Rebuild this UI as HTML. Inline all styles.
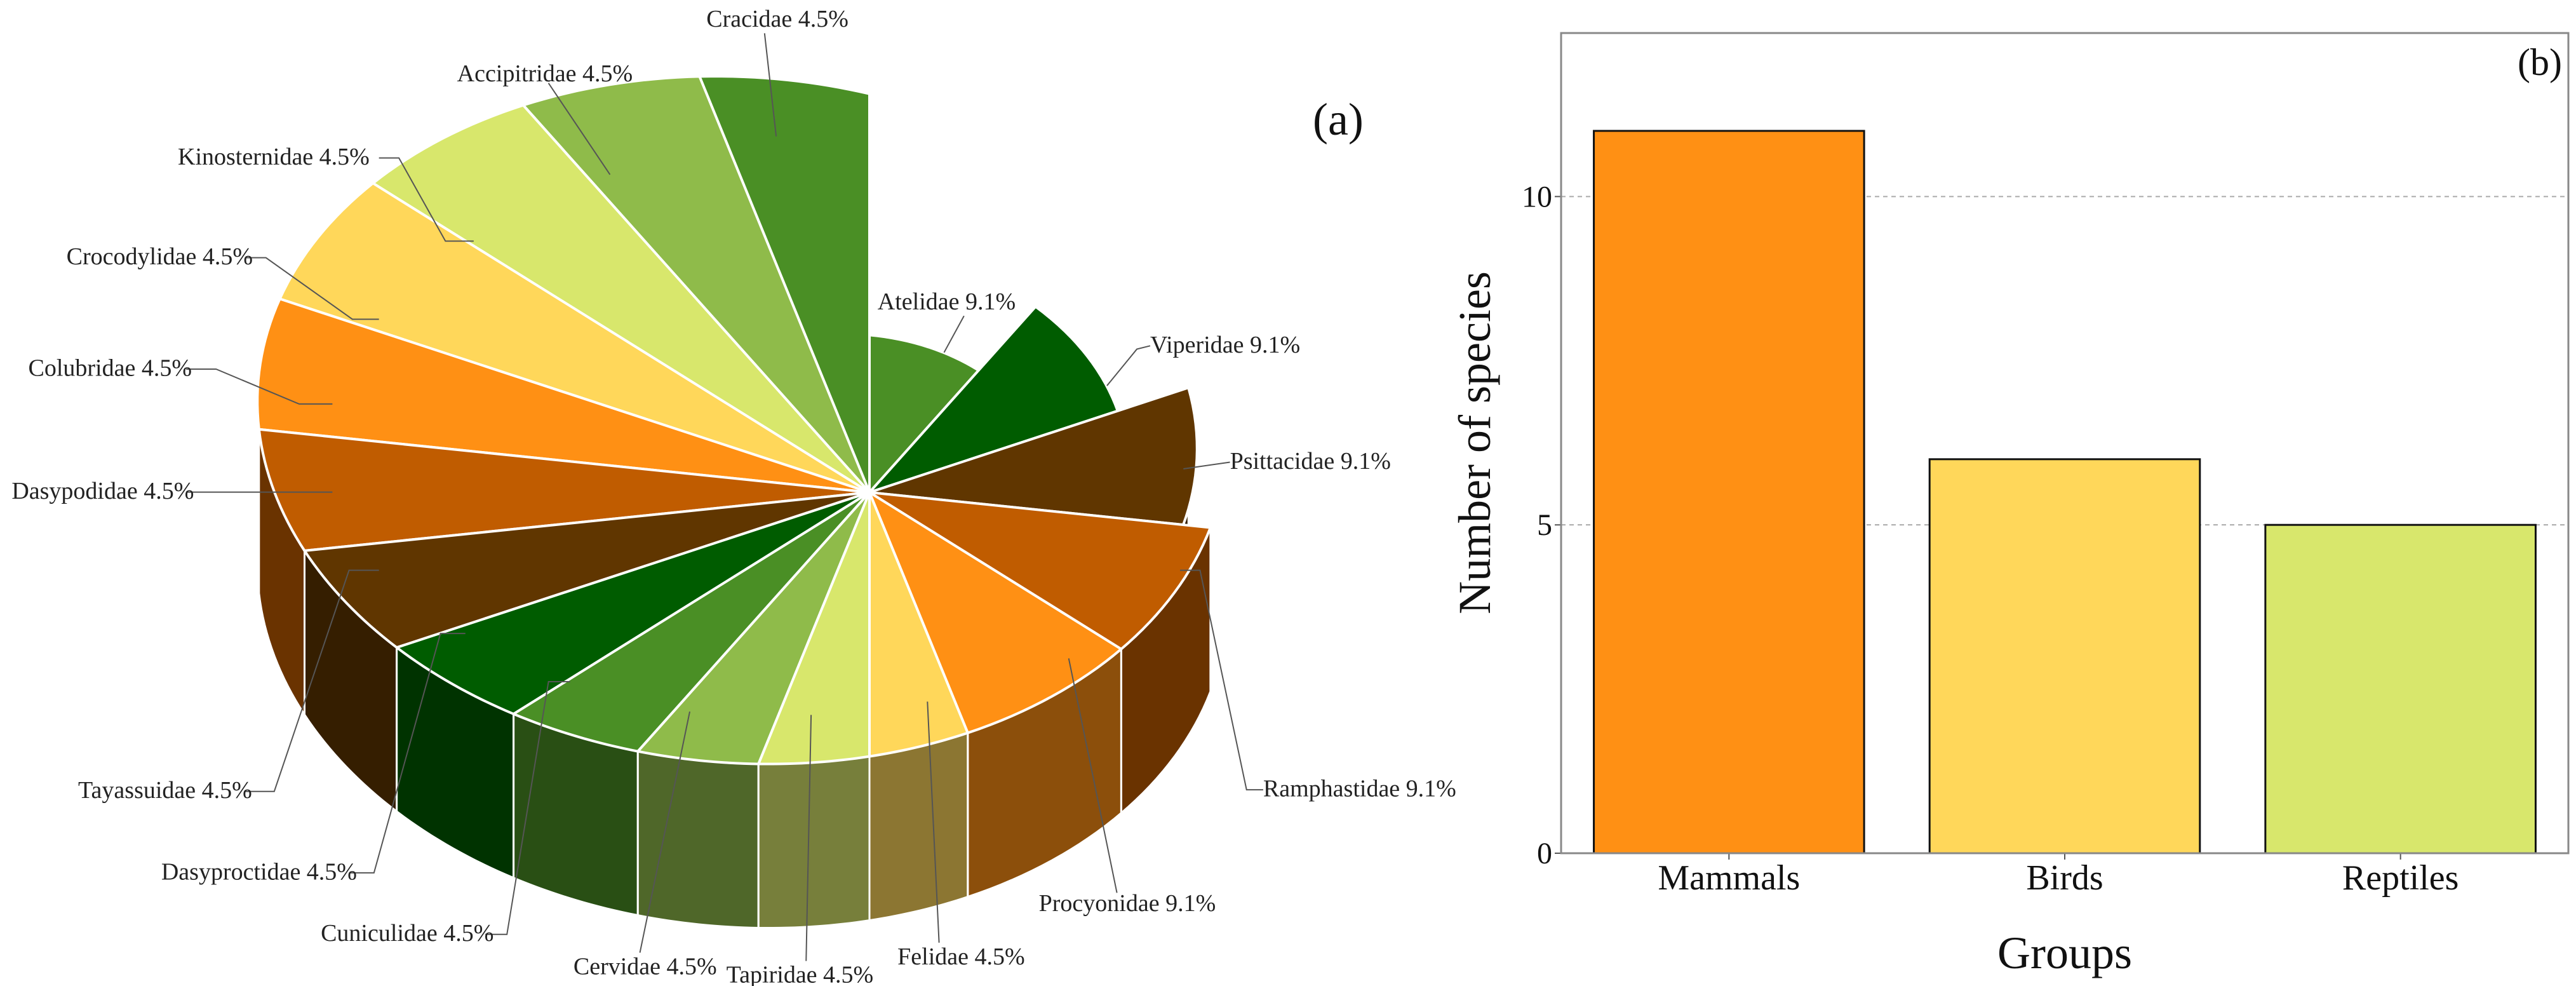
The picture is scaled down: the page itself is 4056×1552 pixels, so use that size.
<!DOCTYPE html>
<html><head><meta charset="utf-8"><style>
html,body{margin:0;padding:0;background:#fff}
svg{display:block;font-family:"Liberation Serif",serif}
</style></head><body>
<svg id="chart" xmlns="http://www.w3.org/2000/svg" width="4056" height="1552" viewBox="0 0 4056 1552">
<rect x="0" y="0" width="4056" height="1552" fill="#fff"/>
<g id="pie"></g>
<g id="bars"></g>
</svg>
<script>
// ---------- Pie data ----------
const families = ["Atelidae","Viperidae","Psittacidae","Ramphastidae","Procyonidae","Felidae","Tapiridae","Cervidae","Cuniculidae","Dasyproctidae","Tayassuidae","Dasypodidae","Colubridae","Crocodylidae","Kinosternidae","Accipitridae","Cracidae"];
const familyCounts = [2,2,2,2,2,1,1,1,1,1,1,1,1,1,1,1,1];
// ---------- Bar data ----------
const groups = ["Mammals","Birds","Reptiles"];
const speciesCounts = [11,6,5];
const yTicks = [0,5,10];

const NS = "http://www.w3.org/2000/svg";
function mk(tag, attrs, parent){
  const e = document.createElementNS(NS, tag);
  for (const k in attrs) e.setAttribute(k, attrs[k]);
  parent.appendChild(e);
  return e;
}
// ---------- Pie styling ----------
const sliceColors = ["#4a8f25","#005c00","#603600","#c05c00","#ff9014","#ffd75a","#d8e76c","#8fbb4a","#4a8f25","#005c00","#603600","#c05c00","#ff9014","#ffd75a","#d8e76c","#8fbb4a","#4a8f25"];
const shrink = [0.45,0.68,0.9,1,1,1,1,1,1,1,1,1,1,1,1,1,1];
const S = 2.617;
const labelLayout = [
  {x:528,y:186,line:[[580,190],[568,212]]},
  {x:692,y:212,line:[[692,208],[684,210],[666,232]]},
  {x:740,y:282,line:[[740,278],[712,282]]},
  {x:760,y:479,line:[[760,475],[750,475],[722,343],[710,343]]},
  {x:625,y:548,line:[[672,537],[643,396]]},
  {x:540,y:580,line:[[565,567],[558,422]]},
  {x:437,y:591,line:[[485,578],[488,430]]},
  {x:345,y:586,line:[[385,573],[415,428]]},
  {x:193,y:566,line:[[292,562],[305,562],[330,410],[343,410]]},
  {x:97,y:529,line:[[210,525],[225,525],[265,381],[280,381]]},
  {x:47,y:480,line:[[147,476],[165,476],[210,343],[228,343]]},
  {x:7,y:300,line:[[112,296],[200,296]]},
  {x:17,y:226,line:[[112,222],[130,222],[180,243],[200,243]]},
  {x:40,y:159,line:[[148,155],[160,155],[212,192],[228,192]]},
  {x:107,y:99,line:[[228,95],[240,95],[268,145],[285,145]]},
  {x:275,y:49,line:[[330,50],[367,105]]},
  {x:425,y:16,line:[[460,20],[467,82]]}
];
const CX=1369, CY=775, RX=696, RY=500, PA=0.257, PB=0.203, DEPTH=258;
function proj(theta, r){
  const X = r*Math.sin(theta), Y = -r*Math.cos(theta);
  const w = 1 + PA*X + PB*Y;
  return [CX + RX*X/w, CY + RY*Y/w];
}
function shade(hex, f){
  const n = parseInt(hex.slice(1),16);
  const r=Math.round(((n>>16)&255)*f), g=Math.round(((n>>8)&255)*f), b=Math.round((n&255)*f);
  return "rgb("+r+","+g+","+b+")";
}
const pie = document.getElementById("pie");
const total = familyCounts.reduce((a,b)=>a+b,0);
let acc = 0;
const slices = familyCounts.map((v,i)=>{
  const a0 = acc/total*2*Math.PI; acc += v; const a1 = acc/total*2*Math.PI;
  return {i, a0, a1, mid:(a0+a1)/2};
});
const order = slices.slice().sort((p,q)=>proj(p.mid,0.7)[1]-proj(q.mid,0.7)[1]);
order.forEach(s=>{
  const i = s.i, r = shrink[i], N = 16;
  const arc = [];
  for (let k=0;k<=N;k++) arc.push(proj(s.a0+(s.a1-s.a0)*k/N, r));
  const g = mk("g",{},pie);
  
  
  const side = shade(sliceColors[i],0.55);
  [arc[0], arc[N]].forEach(p=>{
    const w = mk("polygon",{points:[[CX,CY],p,[p[0],p[1]+DEPTH],[CX,CY+DEPTH]].map(q=>q.join(",")).join(" "),fill:shade(sliceColors[i],0.42),stroke:"#fff","stroke-width":3,"stroke-linejoin":"round"},g);
    
    
  });
  const wallPts = arc.concat(arc.slice().reverse().map(p=>[p[0],p[1]+DEPTH]));
  const ow = mk("polygon",{points:wallPts.map(q=>q.join(",")).join(" "),fill:side,stroke:"#fff","stroke-width":3,"stroke-linejoin":"round"},g);
  
  
  const top = mk("polygon",{points:[[CX,CY]].concat(arc).map(q=>q.join(",")).join(" "),fill:sliceColors[i],stroke:"#fff","stroke-width":4,"stroke-linejoin":"round"},g);
  
  
});
families.forEach((f,i)=>{
  const L = labelLayout[i];
  const pl = mk("polyline",{points:L.line.map(p=>(p[0]*S)+","+(p[1]*S)).join(" "),fill:"none",stroke:"#555","stroke-width":2},pie);
  
  
  const t = mk("text",{x:L.x*S,y:L.y*S,"font-size":38,fill:"#222"},pie);
  t.textContent = f + " " + (familyCounts[i]/total*100).toFixed(1) + "%";
  
  
});
const pa = mk("text",{x:2067,y:212,"font-size":72,fill:"#111"},pie);
pa.textContent = "(a)";



// ---------- Bar chart ----------
const bars = document.getElementById("bars");
const PL=2458, PR=4044, PT=52, PBt=1343, YMAX=12.49;
function yS(v){ return PBt - v/YMAX*(PBt-PT); }
const band = (PR-PL)/groups.length;
function xC(i){ return PL + band*(i+0.5); }
const BW = band*0.805;
yTicks.forEach(v=>{
  if (v>0){
    const gl = mk("line",{x1:PL,x2:PR,y1:yS(v),y2:yS(v),stroke:"#aaa","stroke-width":2,"stroke-dasharray":"7,6"},bars);
    
    
  }
  const tk = mk("line",{x1:PL-10,x2:PL,y1:yS(v),y2:yS(v),stroke:"#555","stroke-width":2},bars);
  
  
  const tl = mk("text",{x:PL-14,y:yS(v)+16,"font-size":48,"text-anchor":"end",fill:"#111"},bars);
  tl.textContent = v;
  
  
});
const barColors = ["#ff9014","#ffd75a","#d8e76c"];
groups.forEach((gname,i)=>{
  const b = mk("rect",{x:xC(i)-BW/2,y:yS(speciesCounts[i]),width:BW,height:PBt-yS(speciesCounts[i]),fill:barColors[i],stroke:"#111","stroke-width":3},bars);
  
  
  const tk = mk("line",{x1:xC(i),x2:xC(i),y1:PBt,y2:PBt+10,stroke:"#555","stroke-width":2},bars);
  
  
  const tl = mk("text",{x:xC(i),y:1400,"font-size":56,"text-anchor":"middle",fill:"#111"},bars);
  tl.textContent = gname;
  
  
});
const frame = mk("rect",{x:PL,y:PT,width:PR-PL,height:PBt-PT,fill:"none",stroke:"#888","stroke-width":3},bars);


const xt = mk("text",{x:(PL+PR)/2,y:1524,"font-size":72,"text-anchor":"middle",fill:"#111"},bars);
xt.textContent = "Groups";


const yt = mk("text",{x:0,y:0,"font-size":72,"text-anchor":"middle",fill:"#111",transform:"translate(2346,697) rotate(-90)"},bars);
yt.textContent = "Number of species";


const pb = mk("text",{x:4034,y:118,"font-size":60,"text-anchor":"end",fill:"#111"},bars);
pb.textContent = "(b)";


</script>
</body></html>
